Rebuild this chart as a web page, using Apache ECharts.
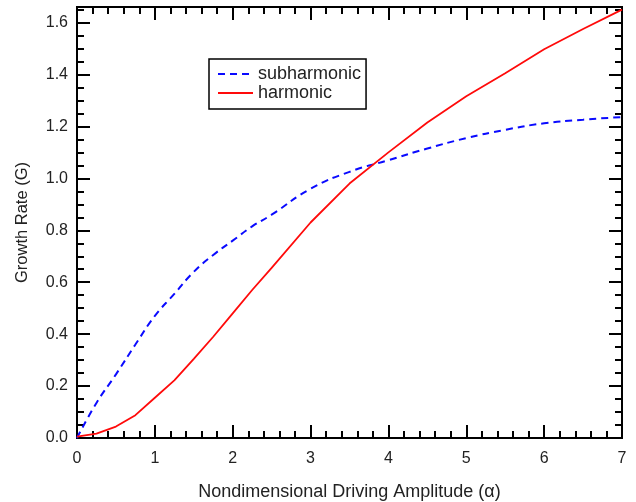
<!DOCTYPE html>
<html>
<head>
<meta charset="utf-8">
<script src="https://cdn.jsdelivr.net/npm/echarts@6/dist/echarts.min.js"></script>
<style>
  html, body { margin: 0; padding: 0; background: #fff; }
  #main { width: 636px; height: 502px; }
</style>
</head>
<body>
<div id="main"></div>
<script>
var alpha = [0, 0.25, 0.5, 0.75, 1, 1.25, 1.5, 1.75, 2, 2.25, 2.5, 3, 3.5, 4, 4.5, 5, 5.5, 6, 6.5, 7];
var subharmonic = [0, 0.135, 0.245, 0.36, 0.47, 0.555, 0.64, 0.705, 0.76, 0.815, 0.86, 0.96, 1.025, 1.07, 1.115, 1.155, 1.187, 1.212, 1.226, 1.236];
var harmonic = [0.005, 0.017, 0.044, 0.088, 0.155, 0.222, 0.305, 0.39, 0.48, 0.57, 0.655, 0.83, 0.98, 1.10, 1.215, 1.316, 1.405, 1.497, 1.575, 1.65];
var xTicks = [0, 1, 2, 3, 4, 5, 6, 7];
var yTicks = [0, 0.2, 0.4, 0.6, 0.8, 1.0, 1.2, 1.4, 1.6];

function pairs(xs, ys) {
    return xs.map(function (x, i) { return [x, ys[i]]; });
}

var font = 'Liberation Sans, Helvetica, Arial, sans-serif';
var black = { color: '#000', width: 2 };
var yMax = 1.66;

var myChart = echarts.init(document.getElementById('main'));

// every tick set is its own axis, all drawn on the same frame line
function xAx(pos, step, len, extra) {
    return Object.assign({
        type: 'value',
        position: pos,
        min: xTicks[0],
        max: xTicks[xTicks.length - 1],
        interval: step,
        axisLine: { show: true, onZero: false, lineStyle: black },
        axisTick: { show: true, inside: true, length: len, lineStyle: black },
        axisLabel: { show: false },
        splitLine: { show: false }
    }, extra || {});
}
function yAx(pos, step, len, extra) {
    return Object.assign({
        type: 'value',
        position: pos,
        min: yTicks[0],
        max: yMax,
        interval: step,
        axisLine: { show: true, onZero: false, lineStyle: black },
        axisTick: { show: true, inside: true, length: len, lineStyle: black },
        axisLabel: { show: false },
        splitLine: { show: false }
    }, extra || {});
}

var option = {
    animation: false,
    grid: { left: 77, right: 14, top: 7, bottom: 64, containLabel: false, outerBoundsMode: 'none' },
    legend: {
        orient: 'vertical',
        left: 209,
        top: 59,
        padding: [6, 5, 7, 8],
        itemWidth: 35,
        itemHeight: 14,
        itemGap: 1,
        borderColor: '#000',
        borderWidth: 1.5,
        itemStyle: { opacity: 0 },
        textStyle: { fontFamily: font, fontSize: 18, color: '#222' },
        data: ['subharmonic', 'harmonic']
    },
    xAxis: [
        xAx('bottom', 1, 13, {
            name: 'Nondimensional Driving Amplitude (\u03b1)',
            nameLocation: 'middle',
            nameGap: 45,
            nameTextStyle: { fontFamily: font, fontSize: 18, color: '#222' },
            axisLabel: { fontFamily: font, fontSize: 16, color: '#222', margin: 13 }
        }),
        xAx('bottom', 0.2, 7),
        xAx('top', 1, 13),
        xAx('top', 0.2, 7)
    ],
    yAxis: [
        yAx('left', 0.2, 13, {
            name: 'Growth Rate (G)',
            nameLocation: 'middle',
            nameGap: 46,
            nameTextStyle: { fontFamily: font, fontSize: 16.5, color: '#222' },
            axisLabel: {
                fontFamily: font, fontSize: 16, color: '#222', margin: 9,
                showMaxLabel: false,
                formatter: function (v) { return v.toFixed(1); }
            }
        }),
        yAx('left', 0.05, 7),
        yAx('right', 0.2, 13),
        yAx('right', 0.05, 7)
    ],
    series: [{
        name: 'subharmonic',
        type: 'line',
        xAxisIndex: 0,
        yAxisIndex: 0,
        symbol: 'none',
        smooth: true,
        color: '#0a0aff',
        lineStyle: { color: '#0a0aff', width: 2, type: [7, 5] },
        data: pairs(alpha, subharmonic)
    }, {
        name: 'harmonic',
        type: 'line',
        xAxisIndex: 0,
        yAxisIndex: 0,
        symbol: 'none',
        color: '#ff0a0a',
        lineStyle: { color: '#ff0a0a', width: 1.8 },
        data: pairs(alpha, harmonic)
    }]
};

myChart.setOption(option);
</script>
</body>
</html>
